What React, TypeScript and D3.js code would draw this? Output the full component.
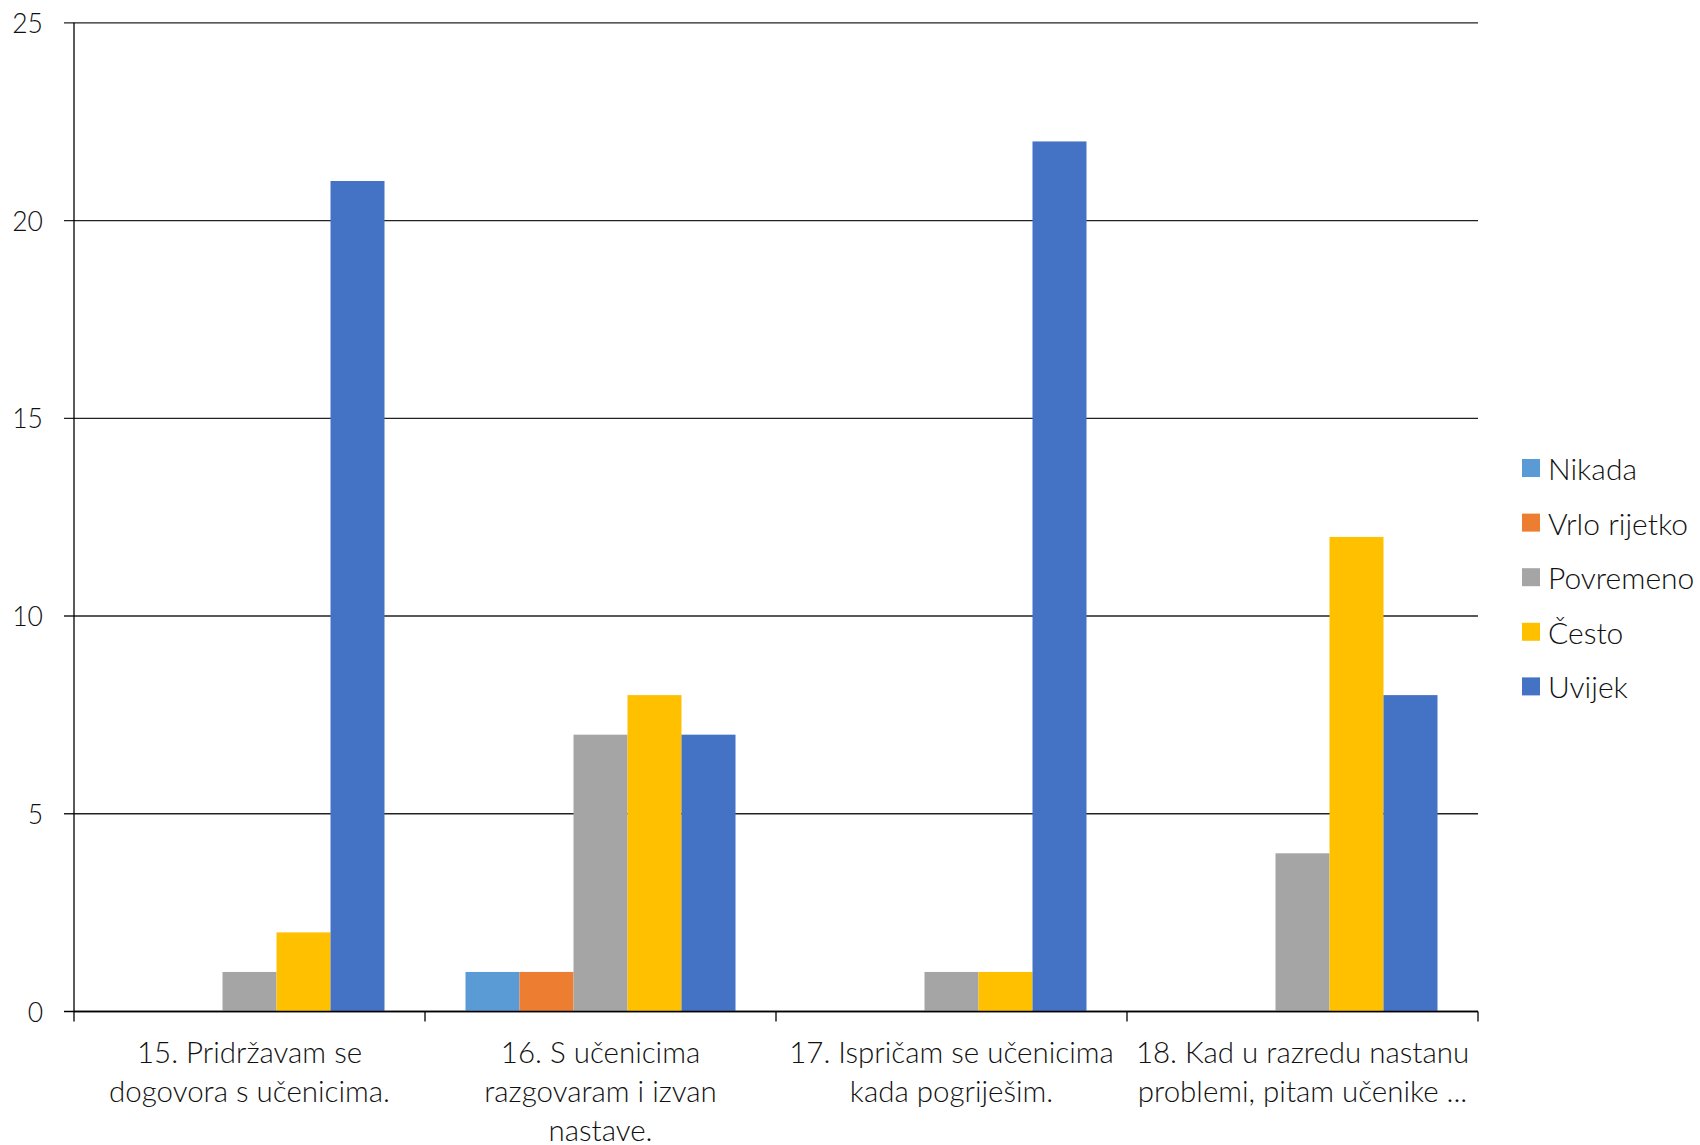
import React from "react";
import * as d3 from "d3";

const categories: string[][] = [
  ["15. Pridržavam se", "dogovora s učenicima."],
  ["16. S učenicima", "razgovaram i izvan", "nastave."],
  ["17. Ispričam se učenicima", "kada pogriješim."],
  ["18. Kad u razredu nastanu", "problemi, pitam učenike ..."],
];
const seriesNames = ["Nikada", "Vrlo rijetko", "Povremeno", "Često", "Uvijek"];
const seriesColors = ["#5B9BD5", "#ED7D31", "#A5A5A5", "#FFC000", "#4472C4"];
const nikada = [0, 1, 0, 0];
const vrloRijetko = [0, 1, 0, 0];
const povremeno = [1, 7, 1, 4];
const cesto = [2, 8, 1, 12];
const uvijek = [21, 7, 22, 8];
const seriesValues = [nikada, vrloRijetko, povremeno, cesto, uvijek];
const yTicks = [0, 5, 10, 15, 20, 25];

const W = 1700;
const H = 1145;
const left = 74;
const right = 1478;
const top = 22.8;
const bottom = 1011.5;
const FONT = "Lato, 'Open Sans', sans-serif";

export default function App() {
  const x = d3
    .scaleBand<number>()
    .domain(d3.range(categories.length))
    .range([left, right]);
  const barW = x.bandwidth() / 6.5;
  const groupOffset = (x.bandwidth() - barW * seriesNames.length) / 2;
  const y = d3.scaleLinear().domain([0, 25]).range([bottom, top]);
  const legendY0 = 468;
  const legendStep = 54.6;

  return (
    <svg
      width={W}
      height={H}
      style={{ position: "absolute", left: 0, top: 0, background: "#fff" }}
      fontFamily={FONT}
    >
      <rect x={0} y={0} width={W} height={H} fill="#fff" />
      {yTicks.map((t) => (
        <g key={t}>
          <line
            x1={left - 10}
            x2={right}
            y1={y(t)}
            y2={y(t)}
            stroke={t === 0 ? "#000" : "#222"}
            strokeWidth={1.3}
          />
          <text
            x={43}
            y={y(t)}
            textAnchor="end"
            dominantBaseline="central"
            fontSize={26.5}
            fontWeight={300}
            fill="#111"
          >
            {t}
          </text>
        </g>
      ))}
      {seriesValues.map((vals, si) =>
        vals.map((v, ci) =>
          v > 0 ? (
            <rect
              key={`${si}-${ci}`}
              x={(x(ci) as number) + groupOffset + si * barW}
              y={y(v)}
              width={barW}
              height={y(0) - y(v)}
              fill={seriesColors[si]}
            />
          ) : null
        )
      )}
      <line x1={left} x2={left} y1={top} y2={bottom} stroke="#000" strokeWidth={1.3} />
      <line x1={left} x2={right} y1={bottom} y2={bottom} stroke="#000" strokeWidth={1.3} />
      {d3.range(categories.length + 1).map((i) => {
        const xx = i < categories.length ? (x(i) as number) : right;
        return (
          <line
            key={i}
            x1={xx}
            x2={xx}
            y1={bottom}
            y2={bottom + 10}
            stroke="#000"
            strokeWidth={1.3}
          />
        );
      })}
      {categories.map((lines, ci) => (
        <text
          key={ci}
          x={(x(ci) as number) + x.bandwidth() / 2}
          textAnchor="middle"
          fontSize={29.5}
          fontWeight={300}
          fill="#111"
        >
          {lines.map((ln, li) => (
            <tspan
              key={li}
              x={(x(ci) as number) + x.bandwidth() / 2}
              y={1051 + li * 39.3}
              dominantBaseline="central"
            >
              {ln}
            </tspan>
          ))}
        </text>
      ))}
      {seriesNames.map((name, i) => (
        <g key={name}>
          <rect
            x={1522}
            y={legendY0 + i * legendStep - 9}
            width={18}
            height={18}
            fill={seriesColors[i]}
          />
          <text
            x={1548}
            y={legendY0 + i * legendStep}
            dominantBaseline="central"
            fontSize={30}
            fontWeight={300}
            fill="#111"
          >
            {name}
          </text>
        </g>
      ))}
    </svg>
  );
}
